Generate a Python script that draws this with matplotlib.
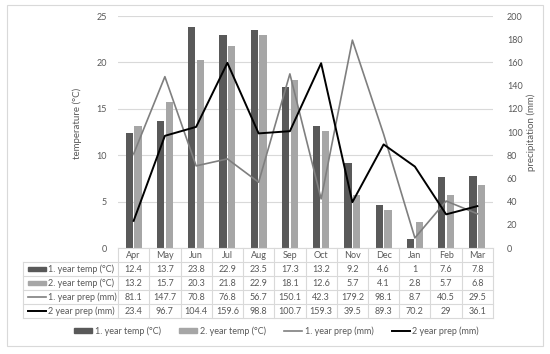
import matplotlib.pyplot as plt
import matplotlib.transforms as mtransforms
from matplotlib.lines import Line2D
from matplotlib.patches import Rectangle, Patch
import numpy as np

months = ['Apr', 'May', 'Jun', 'Jul', 'Aug', 'Sep', 'Oct', 'Nov', 'Dec', 'Jan', 'Feb', 'Mar']
temp_y1 = [12.4, 13.7, 23.8, 22.9, 23.5, 17.3, 13.2, 9.2, 4.6, 1, 7.6, 7.8]
temp_y2 = [13.2, 15.7, 20.3, 21.8, 22.9, 18.1, 12.6, 5.7, 4.1, 2.8, 5.7, 6.8]
prep_y1 = [81.1, 147.7, 70.8, 76.8, 56.7, 150.1, 42.3, 179.2, 98.1, 8.7, 40.5, 29.5]
prep_y2 = [23.4, 96.7, 104.4, 159.6, 98.8, 100.7, 159.3, 39.5, 89.3, 70.2, 29, 36.1]
series_labels = ['1. year temp (°C)', '2. year temp (°C)', '1. year prep (mm)', '2 year prep (mm)']

plt.rcParams['font.family'] = ['Lato', 'DejaVu Sans']
TXT = '#595959'
GRID = '#d9d9d9'
C_T1 = '#595959'
C_T2 = '#a6a6a6'
C_P1 = '#7f7f7f'
C_P2 = '#000000'
FS = 6.5

W, H = 550, 354
fig = plt.figure(figsize=(W / 100, H / 100), dpi=100)

def px_rect(x0, y0, x1, y1):
    return [x0 / W, 1 - y1 / H, (x1 - x0) / W, (y1 - y0) / H]

# outer frame
fig.add_artist(Rectangle((7 / W, 1 - 346 / H), 536 / W, 341 / H, transform=fig.transFigure,
                         fill=False, ec=GRID, lw=0.8))

ax = fig.add_axes(px_rect(118, 16, 493, 248))
x = np.arange(len(months))
bw = 0.225
ax.bar(x - 0.14, temp_y1, bw, color=C_T1, zorder=2)
ax.bar(x + 0.14, temp_y2, bw, color=C_T2, zorder=2)
ax.set_xlim(-0.5, 11.5)
ax.set_ylim(0, 25)
ax.set_yticks(range(0, 26, 5))
ax.yaxis.grid(True, color=GRID, lw=0.8)
ax.set_axisbelow(True)
for s in ['top', 'right', 'left']:
    ax.spines[s].set_visible(False)
ax.spines['bottom'].set_color(GRID)
ax.set_xticks([])
ax.tick_params(axis='y', length=0, labelsize=FS, labelcolor=TXT, pad=8)
ax.set_ylabel('temperature (°C)', fontsize=7, color=TXT)
ax.yaxis.set_label_coords(-0.096, 0.537)

ax2 = ax.twinx()
ax2.plot(x, prep_y1, color=C_P1, lw=1.2)
ax2.plot(x, prep_y2, color=C_P2, lw=1.4)
ax2.set_ylim(0, 200)
ax2.set_yticks(range(0, 201, 20))
for s in ax2.spines.values():
    s.set_visible(False)
ax2.tick_params(axis='y', length=0, labelsize=FS, labelcolor=TXT, pad=10)
ax2.set_ylabel('precipitation (mm)', fontsize=7, color=TXT)
ax2.yaxis.set_label_coords(1.088, 0.498)

# data table under the axis
trans = mtransforms.blended_transform_factory(ax.transData, ax.transAxes)
unit_px = 375 / 12
def dx(p):
    return -0.5 + (p - 118) / unit_px
rh = 14 / 232
xl = dx(23)
nrows = 5
for k in range(1, nrows + 1):
    ax.add_line(Line2D([xl if k >= 1 else -0.5, 11.5], [-k * rh, -k * rh], transform=trans,
                       color=GRID, lw=0.8, clip_on=False))
for i in range(len(months) + 1):
    ax.add_line(Line2D([i - 0.5, i - 0.5], [0, -nrows * rh], transform=trans,
                       color=GRID, lw=0.8, clip_on=False))
ax.add_line(Line2D([xl, xl], [-rh, -nrows * rh], transform=trans, color=GRID, lw=0.8, clip_on=False))

for i, m in enumerate(months):
    ax.text(i, -0.5 * rh, m, transform=trans, ha='center', va='center', fontsize=FS, color=TXT)

rows = [temp_y1, temp_y2, prep_y1, prep_y2]
for r, vals in enumerate(rows, start=1):
    yc = -(r + 0.5) * rh
    for i, v in enumerate(vals):
        ax.text(i, yc, f'{v:g}', transform=trans, ha='center', va='center', fontsize=FS, color=TXT)
    ax.text(dx(48), yc, series_labels[r - 1], transform=trans, ha='left', va='center',
            fontsize=FS, color=TXT)
    if r <= 2:
        ax.add_patch(Rectangle((dx(28), yc - 0.009), dx(46) - dx(28), 0.018, transform=trans,
                               color=[C_T1, C_T2][r - 1], clip_on=False))
    else:
        ax.add_line(Line2D([dx(28), dx(46)], [yc, yc], transform=trans,
                           color=[C_P1, C_P2][r - 3], lw=[1.2, 1.4][r - 3], clip_on=False))

handles = [Patch(color=C_T1), Patch(color=C_T2),
           Line2D([], [], color=C_P1, lw=1.2), Line2D([], [], color=C_P2, lw=1.4)]
fig.legend(handles, series_labels, ncol=4, loc='center', bbox_to_anchor=(0.503, 1 - 331 / H),
           frameon=False, fontsize=FS, labelcolor=TXT, handlelength=2.0, handleheight=0.5,
           handletextpad=0.3, columnspacing=2.0)

fig.savefig('out.png', dpi=100)
